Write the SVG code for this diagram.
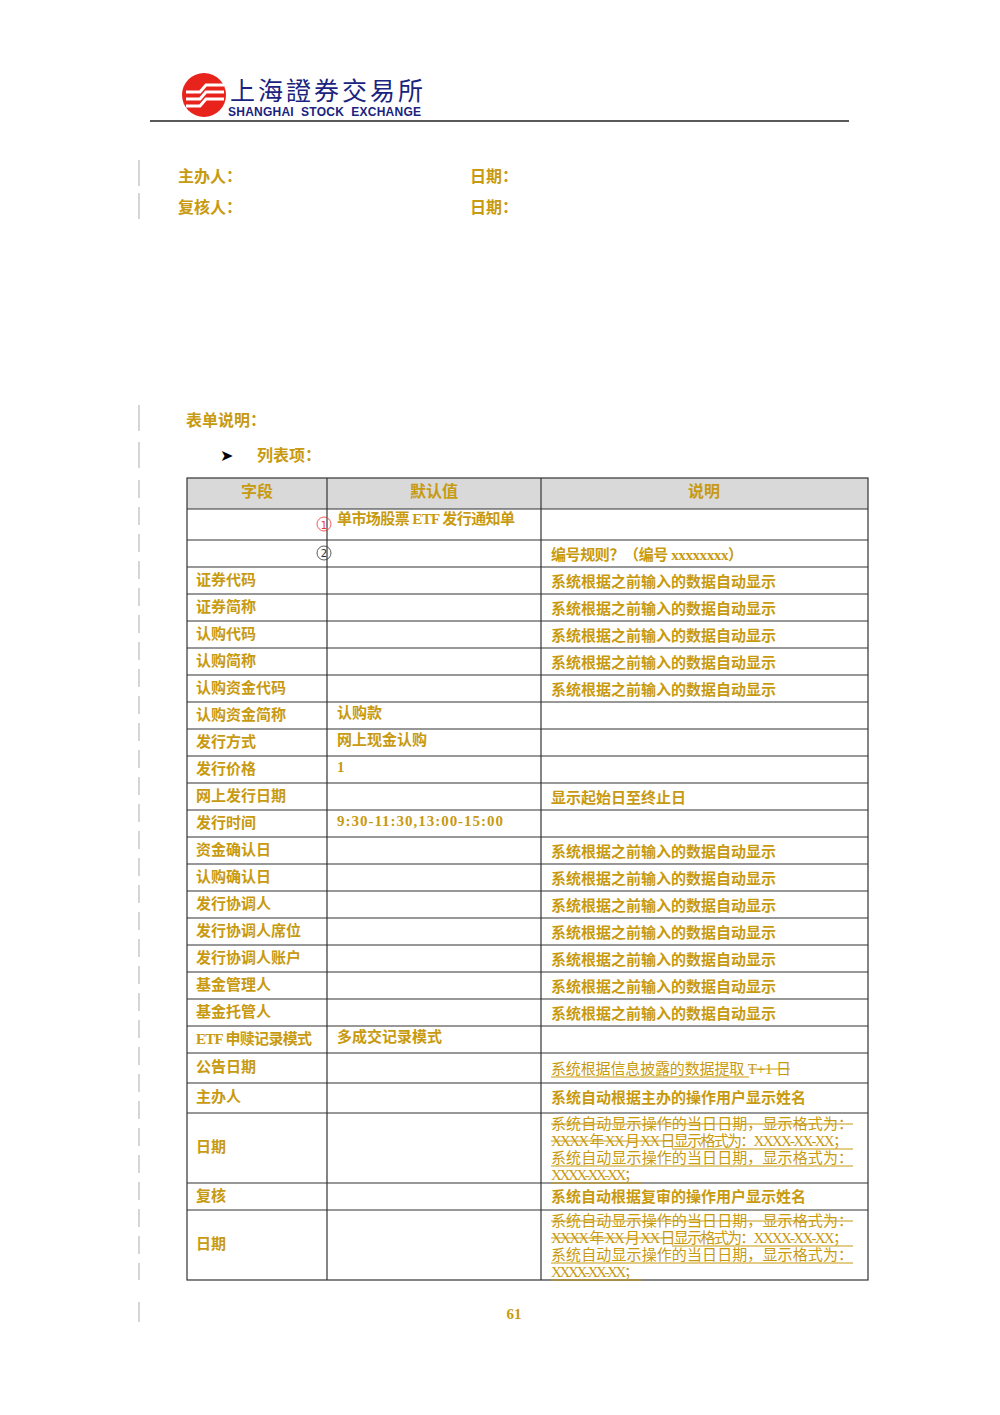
<svg xmlns="http://www.w3.org/2000/svg" width="1000" height="1415" viewBox="0 0 1000 1415">
<style>
.t{font-family:"Liberation Serif","Noto Sans CJK SC",serif;font-size:15px;fill:#c89a10}
.b{font-weight:bold}
.h{font-size:16px;text-anchor:middle}
.g{stroke:#333;stroke-width:1.2;fill:none}
.u{stroke:#c89a10;stroke-width:1}
.m{stroke:#bbb;stroke-width:1.2}
</style>
<rect width="1000" height="1415" fill="#fff"/>
<g id="logo">
<circle cx="204" cy="95" r="22" fill="#e8231c"/>
<path d="M186 92 h14 l6 -7 h18 M186 99 h14 l6 -7 h18 M186 106 h14 l6 -7 h18" stroke="#fff" stroke-width="3" fill="none"/>
<text x="230" y="100" style="font-family:'Noto Sans CJK SC',sans-serif;font-size:25px;fill:#1a237e;letter-spacing:3px">上海證券交易所</text>
<text x="228" y="116" textLength="193" style="font-family:'Liberation Sans',sans-serif;font-size:12px;fill:#1a237e;font-weight:bold;white-space:pre" xml:space="preserve">SHANGHAI  STOCK  EXCHANGE</text>
</g>
<line x1="150" y1="121" x2="849" y2="121" stroke="#222" stroke-width="1.5"/>
<g id="margin">
<line class="m" x1="139" y1="160" x2="139" y2="186"/><line class="m" x1="139" y1="193" x2="139" y2="219"/>
<line class="m" x1="139" y1="405" x2="139" y2="431"/><line class="m" x1="139" y1="442" x2="139" y2="468"/>
<line class="m" x1="139" y1="480" x2="139" y2="1280" stroke-dasharray="18 9"/>
<line class="m" x1="139" y1="1302" x2="139" y2="1322"/>
</g>
<g id="meta">
<text x="178" y="182" class="t b" style="font-size:16px">主办人：</text>
<text x="470" y="182" class="t b" style="font-size:16px">日期：</text>
<text x="178" y="213" class="t b" style="font-size:16px">复核人：</text>
<text x="470" y="213" class="t b" style="font-size:16px">日期：</text>
<text x="186" y="426" class="t b" style="font-size:16px">表单说明：</text>
<text x="220" y="461" style="font-family:'DejaVu Sans',sans-serif;font-size:16px;fill:#000">➤</text>
<text x="257" y="461" class="t b" style="font-size:16px">列表项：</text>
</g>
<g id="table">
<rect x="187" y="478" width="681" height="31" fill="#d9d9d9"/>
<g class="g">
<rect x="187" y="478" width="681" height="802"/>
<line x1="327" y1="478" x2="327" y2="1280"/><line x1="541" y1="478" x2="541" y2="1280"/>
<path d="M187 509H868M187 540H868M187 567H868M187 594H868M187 621H868M187 648H868M187 675H868M187 702H868M187 729H868M187 756H868M187 783H868M187 810H868M187 837H868M187 864H868M187 891H868M187 918H868M187 945H868M187 972H868M187 999H868M187 1026H868M187 1053H868M187 1083H868M187 1113H868M187 1183H868M187 1210H868"/>
</g>
<text x="257" y="497" class="t b h">字段</text><text x="434" y="497" class="t b h">默认值</text><text x="704" y="497" class="t b h">说明</text>
<circle cx="324" cy="524" r="7" fill="none" stroke="#e33" stroke-width="0.8"/><text x="324" y="529" text-anchor="middle" style="font-family:'DejaVu Sans';font-size:10px;fill:#e33">1</text>
<text x="337" y="524" class="t b" textLength="178">单市场股票 ETF 发行通知单</text>
<circle cx="324" cy="553" r="7" fill="none" stroke="#333" stroke-width="0.8"/><text x="324" y="557" text-anchor="middle" style="font-family:'DejaVu Sans';font-size:10px;fill:#333">2</text>
<text x="551" y="560" class="t b" textLength="192">编号规则？（编号 xxxxxxxx）</text>
<g class="t b">
<text x="196" y="585">证券代码</text><text x="196" y="612">证券简称</text><text x="196" y="639">认购代码</text><text x="196" y="666">认购简称</text><text x="196" y="693">认购资金代码</text><text x="196" y="720">认购资金简称</text><text x="196" y="747">发行方式</text><text x="196" y="774">发行价格</text><text x="196" y="801">网上发行日期</text><text x="196" y="828">发行时间</text><text x="196" y="855">资金确认日</text><text x="196" y="882">认购确认日</text><text x="196" y="909">发行协调人</text><text x="196" y="936">发行协调人席位</text><text x="196" y="963">发行协调人账户</text><text x="196" y="990">基金管理人</text><text x="196" y="1017">基金托管人</text><text x="196" y="1044" textLength="116">ETF 申赎记录模式</text><text x="196" y="1072">公告日期</text><text x="196" y="1102">主办人</text><text x="196" y="1152">日期</text><text x="196" y="1201">复核</text><text x="196" y="1249">日期</text>
<text x="337" y="718">认购款</text><text x="337" y="745">网上现金认购</text><text x="337" y="772">1</text><text x="337" y="826" textLength="166">9:30-11:30,13:00-15:00</text><text x="337" y="1042">多成交记录模式</text>
<text x="551" y="587">系统根据之前输入的数据自动显示</text><text x="551" y="614">系统根据之前输入的数据自动显示</text><text x="551" y="641">系统根据之前输入的数据自动显示</text><text x="551" y="668">系统根据之前输入的数据自动显示</text><text x="551" y="695">系统根据之前输入的数据自动显示</text>
<text x="551" y="803">显示起始日至终止日</text>
<text x="551" y="857">系统根据之前输入的数据自动显示</text><text x="551" y="884">系统根据之前输入的数据自动显示</text><text x="551" y="911">系统根据之前输入的数据自动显示</text><text x="551" y="938">系统根据之前输入的数据自动显示</text><text x="551" y="965">系统根据之前输入的数据自动显示</text><text x="551" y="992">系统根据之前输入的数据自动显示</text><text x="551" y="1019">系统根据之前输入的数据自动显示</text>
<text x="551" y="1103">系统自动根据主办的操作用户显示姓名</text><text x="551" y="1202">系统自动根据复审的操作用户显示姓名</text>
</g>
<g class="t" style="font-weight:normal">
<text x="551" y="1074" textLength="240">系统根据信息披露的数据提取 T+1 日</text>
<text x="551" y="1129" textLength="302">系统自动显示操作的当日日期，显示格式为：</text>
<text x="551" y="1146" textLength="297">XXXX 年 XX 月 XX 日显示格式为：XXXX-XX-XX；</text>
<text x="551" y="1163" textLength="302">系统自动显示操作的当日日期，显示格式为：</text>
<text x="551" y="1180" textLength="88">XXXX-XX-XX；</text>
<text x="551" y="1226" textLength="302">系统自动显示操作的当日日期，显示格式为：</text>
<text x="551" y="1243" textLength="297">XXXX 年 XX 月 XX 日显示格式为：XXXX-XX-XX；</text>
<text x="551" y="1260" textLength="302">系统自动显示操作的当日日期，显示格式为：</text>
<text x="551" y="1277" textLength="88">XXXX-XX-XX；</text>
</g>
<g class="u">
<line x1="551" y1="1077" x2="749" y2="1077"/><line x1="749" y1="1069" x2="790" y2="1069"/>
<line x1="551" y1="1124" x2="853" y2="1124"/><line x1="551" y1="1141" x2="672" y2="1141"/><line x1="672" y1="1149" x2="853" y2="1149"/><line x1="551" y1="1166" x2="853" y2="1166"/><line x1="551" y1="1183" x2="641" y2="1183"/>
<line x1="551" y1="1221" x2="853" y2="1221"/><line x1="551" y1="1238" x2="672" y2="1238"/><line x1="672" y1="1246" x2="853" y2="1246"/><line x1="551" y1="1263" x2="853" y2="1263"/><line x1="551" y1="1280" x2="641" y2="1280"/>
</g>
</g>
<text x="514" y="1319" class="t b" style="font-size:15px;text-anchor:middle">61</text>
</svg>
